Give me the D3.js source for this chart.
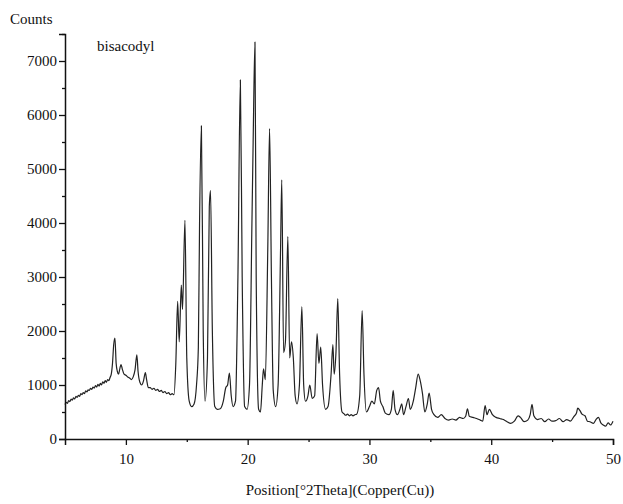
<!DOCTYPE html>
<html><head><meta charset="utf-8">
<script src="https://cdn.jsdelivr.net/npm/d3@7"></script>
<style>body{margin:0;background:#fff}svg{display:block}text{font-family:"Liberation Serif","Times New Roman",serif;fill:#111}</style>
</head><body><div id="c"></div>
<script>
const twoTheta = [5.0,5.1,5.2,5.3,5.4,5.5,5.6,5.7,5.8,5.9,6.0,6.1,6.2,6.3,6.4,6.5,6.6,6.7,6.8,6.9,7.0,7.1,7.2,7.3,7.4,7.5,7.6,7.7,7.8,7.9,8.0,8.1,8.2,8.3,8.4,8.5,8.6,8.7,8.8,8.9,9.0,9.1,9.2,9.3,9.4,9.5,9.6,9.7,9.85,10.0,10.15,10.3,10.45,10.6,10.75,10.9,11.0,11.15,11.3,11.45,11.6,11.7,11.85,12.0,12.15,12.3,12.45,12.6,12.75,12.9,13.05,13.2,13.35,13.5,13.65,13.8,13.95,14.1,14.25,14.38,14.55,14.65,14.85,15.0,15.2,15.4,15.6,15.8,15.95,16.05,16.2,16.35,16.5,16.7,16.85,16.95,17.1,17.3,17.5,17.75,18.0,18.2,18.35,18.5,18.65,18.8,19.0,19.2,19.4,19.55,19.75,19.95,20.15,20.35,20.45,20.6,20.7,20.9,21.05,21.2,21.3,21.45,21.65,21.8,21.95,22.1,22.3,22.5,22.7,22.8,22.95,23.1,23.3,23.45,23.6,23.75,23.9,24.05,24.25,24.45,24.6,24.75,24.95,25.1,25.3,25.5,25.7,25.85,26.0,26.15,26.4,26.6,26.85,27.0,27.1,27.25,27.4,27.55,27.75,27.9,28.05,28.2,28.35,28.5,28.65,28.8,28.95,29.2,29.4,29.55,29.75,30.0,30.2,30.4,30.6,30.75,30.9,31.1,31.3,31.6,31.8,31.95,32.1,32.3,32.5,32.65,32.8,33.0,33.2,33.35,33.6,33.8,34.0,34.15,34.35,34.55,34.75,34.9,35.1,35.3,35.6,35.9,36.2,36.5,36.8,37.1,37.4,37.7,37.9,38.05,38.2,38.5,38.8,39.1,39.3,39.5,39.65,39.85,40.1,40.4,40.7,41.0,41.3,41.6,41.9,42.2,42.4,42.7,43.0,43.2,43.35,43.5,43.8,44.1,44.4,44.7,45.0,45.3,45.6,45.9,46.2,46.5,46.8,47.0,47.1,47.3,47.45,47.7,47.9,48.1,48.4,48.6,48.8,49.0,49.2,49.4,49.6,49.8,50.0];
const counts = [640,680,660,710,690,740,720,760,740,790,770,810,790,840,820,860,840,890,870,910,900,940,920,960,940,990,960,1010,980,1030,1000,1060,1030,1080,1050,1100,1080,1140,1200,1400,1750,1870,1400,1250,1200,1300,1380,1300,1200,1180,1150,1130,1100,1150,1280,1560,1250,1050,1000,1080,1230,1100,950,950,920,940,900,920,880,900,860,880,840,860,820,840,820,1400,2550,1800,2850,2400,4050,1500,700,600,650,1000,1700,4000,5800,2000,700,1500,4300,4600,2000,600,550,560,700,950,1000,1220,800,600,700,3000,6650,3000,600,550,1000,4000,5500,7350,3000,550,500,1000,1300,1100,3500,5750,3000,900,600,1000,3500,4800,1600,1800,3750,1500,1800,1500,800,650,1000,2450,1000,700,800,1000,750,800,1950,1400,1700,1000,550,600,1200,1750,1200,1600,2600,1200,500,470,440,460,430,450,430,450,460,800,2380,1200,500,600,700,650,900,950,700,600,480,450,550,900,550,450,550,650,450,600,750,550,700,950,1200,1100,850,500,650,850,550,450,400,450,380,350,370,350,400,380,420,560,420,400,380,350,330,620,450,550,450,400,380,360,320,290,330,430,400,320,350,450,640,430,360,380,320,370,330,340,380,320,360,330,420,480,570,520,460,430,330,320,290,360,400,300,260,240,300,260,330];
const xTicks = [10,20,30,40,50];
const xMinorTicks = [15,25,35,45];
const yTicks = [0,1000,2000,3000,4000,5000,6000,7000];
const yMinorTicks = [500,1500,2500,3500,4500,5500,6500,7500];
const sampleLabel = "bisacodyl";
const xTitle = "Position[°2Theta](Copper(Cu))";
const yTitle = "Counts";

const W=623,H=504;
const svg=d3.select("#c").append("svg").attr("width",W).attr("height",H);
const x=d3.scaleLinear().domain([5,50]).range([65,613]);
const y=d3.scaleLinear().domain([0,7500]).range([439,34]);
const data=twoTheta.map((t,i)=>[t,counts[i]]);

svg.append("path").datum(data)
  .attr("fill","none").attr("stroke","#222").attr("stroke-width",1.2).attr("stroke-linejoin","round")
  .attr("d",d3.line().x(d=>x(d[0])).y(d=>y(d[1])).curve(d3.curveMonotoneX));

const xAxis=svg.append("g").attr("transform","translate(0,439)")
  .call(d3.axisBottom(x).tickValues(xTicks).tickSize(6).tickFormat(d3.format("d")));
const xMinor=svg.append("g").attr("transform","translate(0,439)")
  .call(d3.axisBottom(x).tickValues(xMinorTicks).tickSize(3).tickFormat(""));
const yAxis=svg.append("g").attr("transform","translate(65,0)")
  .call(d3.axisLeft(y).tickValues(yTicks).tickSize(6).tickFormat(d3.format("d")));
const yMinor=svg.append("g").attr("transform","translate(65,0)")
  .call(d3.axisLeft(y).tickValues(yMinorTicks).tickSize(3).tickFormat(""));
[xAxis,xMinor,yAxis,yMinor].forEach(g=>{
  g.select(".domain").attr("stroke","#111").attr("stroke-width",1.5);
  g.selectAll(".tick line").attr("stroke","#111").attr("stroke-width",1.3);
  g.selectAll("text").style("font-family",'"Liberation Serif",serif').style("font-size","15px").attr("fill","#111");
});
xMinor.select(".domain").remove(); yMinor.select(".domain").remove();
xAxis.selectAll("text").attr("dy","1.05em");
yAxis.selectAll("text").attr("x",-8);

svg.append("text").attr("x",10).attr("y",24).style("font-size","15px").text(yTitle);
svg.append("text").attr("x",97).attr("y",51).style("font-size","15px").text(sampleLabel);
svg.append("text").attr("x",340).attr("y",495).attr("text-anchor","middle").style("font-size","15px").text(xTitle);
</script></body></html>
